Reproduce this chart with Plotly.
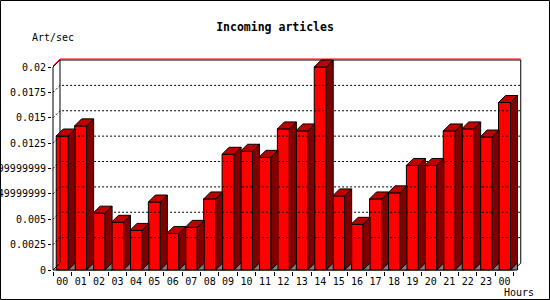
import plotly.graph_objects as go

# ---------------- data ----------------
hours = ["00", "01", "02", "03", "04", "05", "06", "07", "08", "09", "10", "11",
         "12", "13", "14", "15", "16", "17", "18", "19", "20", "21", "22", "23", "00"]
rates = [0.0132, 0.0142, 0.0056, 0.0047, 0.0039, 0.0067, 0.0036, 0.0042, 0.0070,
         0.0114, 0.0117, 0.0111, 0.0139, 0.0137, 0.0200, 0.0073, 0.0045, 0.0070,
         0.0076, 0.0103, 0.0103, 0.0137, 0.0139, 0.0131, 0.0165]
y_tick_values = [0, 0.0025, 0.005, 0.0075, 0.01, 0.0125, 0.015, 0.0175, 0.02]
y_tick_labels = ["0", "0.0025", "0.005", "0.00749999999", "0.00999999999",
                 "0.0125", "0.015", "0.0175", "0.02"]
chart_title = "Incoming articles"
y_title = "Art/sec"
x_title = "Hours"

# ---------------- geometry / style ----------------
W, H = 550, 300
L, R, T, B = 52, 27, 57, 29
CAT_PX = 18.43          # pixels per category
Y_PX = 10150.0          # pixels per unit of value
plot_w = W - L - R
plot_h = H - T - B
x_lo = -0.5 - 1.0 / CAT_PX
x_hi = x_lo + plot_w / CAT_PX
y_lo = -1.0 / Y_PX
y_hi = y_lo + plot_h / Y_PX
DX = 7.0 / CAT_PX
DY = 7.0 / Y_PX
BW = 12.0 / CAT_PX
ONE_PX_Y = 1.0 / Y_PX

FONT = "DejaVu Sans Mono"
FRONT = "#FF0000"
SIDE = "#800000"
TOP = "#C00000"
SHADOW = "#808080"

n = len(rates)
x_left_edge = -0.5
x_right_edge = n - 0.5
y_top = y_tick_values[-1]


def px_to_paper_x(px):
    return (px - L) / plot_w


def px_to_paper_y(py):
    return (H - B - py) / plot_h


fig = go.Figure()

# back wall gridlines (dotted), plus small side-wall diagonals
gx, gy = [], []
for t in y_tick_values[1:-1]:
    gx += [x_left_edge, x_left_edge + DX, x_right_edge + DX, None]
    gy += [t, t + DY, t + DY, None]
fig.add_trace(go.Scatter(x=gx, y=gy, mode="lines",
                         line=dict(color="black", width=1, dash="2px,2px"),
                         hoverinfo="skip"))

# frame lines of the 3D box
fx = [x_left_edge, x_left_edge, None,
      x_left_edge + DX, x_left_edge + DX, None,
      x_right_edge + DX, x_right_edge + DX, None,
      x_left_edge, x_right_edge, None,
      x_left_edge, x_left_edge + DX, None,
      x_right_edge, x_right_edge + DX, None,
      x_left_edge, x_left_edge + DX, x_right_edge + DX, None]
fy = [0, y_top, None,
      DY, y_top + DY, None,
      DY, y_top + DY, None,
      0, 0, None,
      0, DY, None,
      0, DY, None,
      y_top, y_top + DY, y_top + DY, None]
fig.add_trace(go.Scatter(x=fx, y=fy, mode="lines",
                         line=dict(color="black", width=1), hoverinfo="skip"))
# red highlight above the top edge
fig.add_trace(go.Scatter(x=[x_left_edge, x_left_edge + DX, x_right_edge + DX],
                         y=[y_top + ONE_PX_Y, y_top + DY + ONE_PX_Y, y_top + DY + ONE_PX_Y],
                         mode="lines", line=dict(color=FRONT, width=1),
                         hoverinfo="skip"))

# front faces
fig.add_trace(go.Bar(x=list(range(n)), y=rates, width=BW,
                     marker=dict(color=FRONT, line=dict(color="black", width=1)),
                     hoverinfo="skip"))

# side faces, top faces, shadows
sx, sy, tx, ty, hx, hy = [], [], [], [], [], []
for i, v in enumerate(rates):
    xl = i - BW / 2
    xr = i + BW / 2
    sx += [xr, xr + DX, xr + DX, xr, xr, None]
    sy += [0, DY, v + DY, v, 0, None]
    tx += [xl, xl + DX, xr + DX, xr, xl, None]
    ty += [v, v + DY, v + DY, v, v, None]
    hx += [xr, xr + DX, xr + DX, xr, None]
    hy += [0, DY, 0, 0, None]
for xs, ys, col in ((sx, sy, SIDE), (tx, ty, TOP), (hx, hy, SHADOW)):
    fig.add_trace(go.Scatter(x=xs, y=ys, mode="lines", fill="toself",
                             fillcolor=col, line=dict(color="black", width=1),
                             hoverinfo="skip"))

fig.update_layout(
    width=W, height=H,
    margin=dict(l=L, r=R, t=T, b=B, pad=0),
    paper_bgcolor="white", plot_bgcolor="white",
    showlegend=False, hovermode=False,
    font=dict(family=FONT, size=10, color="black"),
    title=dict(text=chart_title, x=0.5, xref="container", xanchor="center",
               y=1 - 27 / H, yref="container", yanchor="middle",
               font=dict(family=FONT, size=11.5, color="black", weight="bold")),
    xaxis=dict(range=[x_lo, x_hi], showgrid=False, zeroline=False, showline=False,
               tickmode="array", tickvals=list(range(n)), ticktext=hours,
               ticks="", automargin=False, fixedrange=True, ticklabelstandoff=3,
               tickfont=dict(family=FONT, size=10, color="black"),
               minor=dict(tickmode="array",
                          tickvals=[i - 0.5 for i in range(n + 1)],
                          ticks="outside", ticklen=4, tickcolor="black",
                          tickwidth=1, showgrid=False)),
    yaxis=dict(range=[y_lo, y_hi], showgrid=False, zeroline=False, showline=False,
               tickmode="array", tickvals=y_tick_values, ticktext=y_tick_labels,
               ticks="outside", ticklen=3, tickcolor="black", tickwidth=1,
               automargin=False, fixedrange=True,
               tickfont=dict(family=FONT, size=10, color="black")),
    shapes=[dict(type="rect", xref="paper", yref="paper",
                 x0=px_to_paper_x(0.5), x1=px_to_paper_x(W - 0.5),
                 y0=px_to_paper_y(H - 0.5), y1=px_to_paper_y(0.5),
                 line=dict(color="black", width=1), fillcolor="rgba(0,0,0,0)",
                 layer="below")],
    annotations=[
        dict(text=y_title, xref="paper", yref="paper",
             x=px_to_paper_x(30), y=px_to_paper_y(37),
             xanchor="left", yanchor="middle", showarrow=False,
             font=dict(family=FONT, size=10, color="black")),
        dict(text=x_title, xref="paper", yref="paper",
             x=px_to_paper_x(519), y=px_to_paper_y(292),
             xanchor="center", yanchor="middle", showarrow=False,
             font=dict(family=FONT, size=10, color="black")),
    ],
)

fig.write_html("out.html")
